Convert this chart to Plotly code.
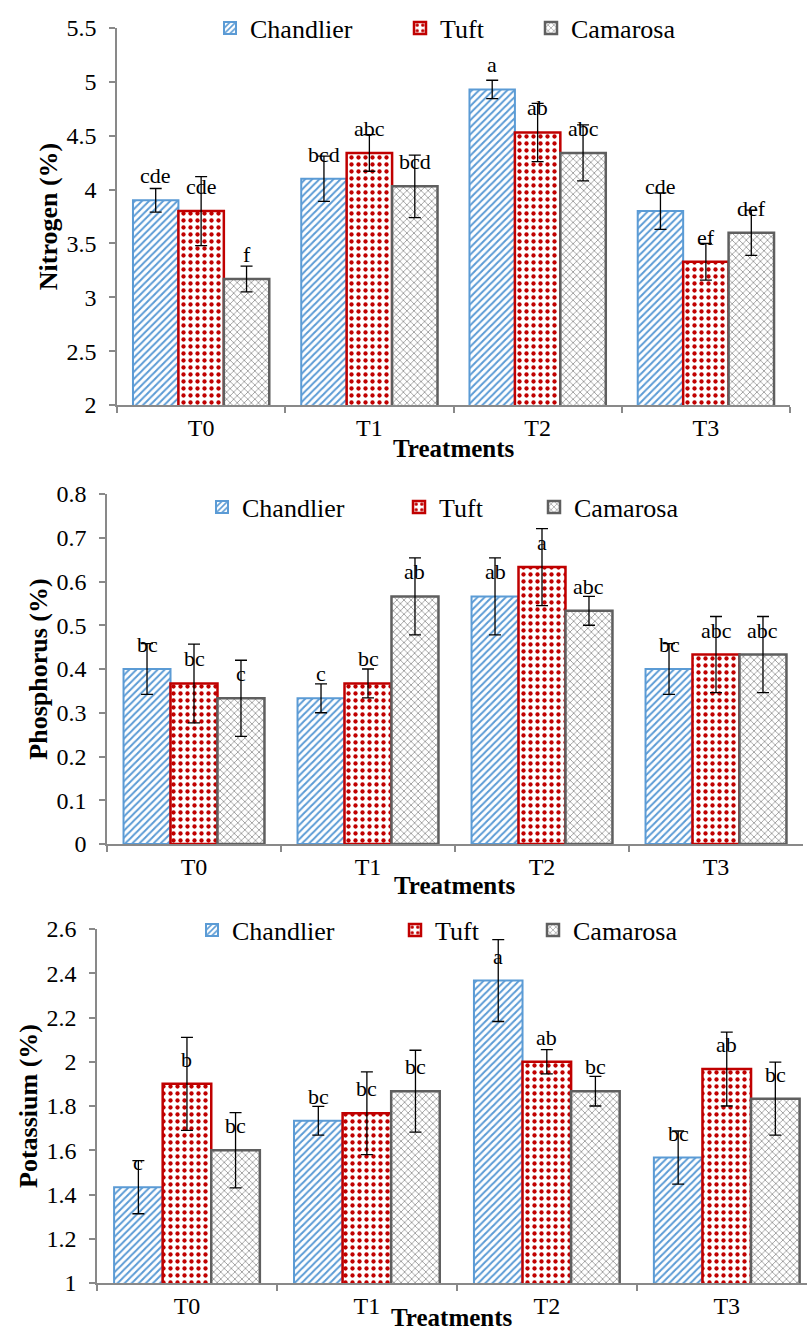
import plotly.graph_objects as go

# ---------------- data ----------------
treatments = ["T0", "T1", "T2", "T3"]
cultivars = ["Chandlier", "Tuft", "Camarosa"]

nitrogen_chandlier = [3.90, 4.10, 4.93, 3.80]
nitrogen_tuft = [3.80, 4.34, 4.53, 3.33]
nitrogen_camarosa = [3.17, 4.03, 4.34, 3.60]
nitrogen_err_chandlier = [0.11, 0.21, 0.085, 0.17]
nitrogen_err_tuft = [0.32, 0.17, 0.27, 0.17]
nitrogen_err_camarosa = [0.12, 0.29, 0.26, 0.21]
nitrogen_letters_chandlier = ["cde", "bcd", "a", "cde"]
nitrogen_letters_tuft = ["cde", "abc", "ab", "ef"]
nitrogen_letters_camarosa = ["f", "bcd", "abc", "def"]

phosphorus_chandlier = [0.400, 0.333, 0.566, 0.400]
phosphorus_tuft = [0.367, 0.367, 0.633, 0.433]
phosphorus_camarosa = [0.333, 0.566, 0.533, 0.433]
phosphorus_err_chandlier = [0.058, 0.033, 0.088, 0.058]
phosphorus_err_tuft = [0.090, 0.033, 0.088, 0.087]
phosphorus_err_camarosa = [0.087, 0.088, 0.033, 0.087]
phosphorus_letters_chandlier = ["bc", "c", "ab", "bc"]
phosphorus_letters_tuft = ["bc", "bc", "a", "abc"]
phosphorus_letters_camarosa = ["c", "ab", "abc", "abc"]

potassium_chandlier = [1.433, 1.733, 2.367, 1.567]
potassium_tuft = [1.900, 1.767, 2.000, 1.967]
potassium_camarosa = [1.600, 1.867, 1.867, 1.833]
potassium_err_chandlier = [0.120, 0.065, 0.185, 0.120]
potassium_err_tuft = [0.210, 0.187, 0.055, 0.167]
potassium_err_camarosa = [0.170, 0.185, 0.067, 0.165]
potassium_letters_chandlier = ["c", "bc", "a", "bc"]
potassium_letters_tuft = ["b", "bc", "ab", "ab"]
potassium_letters_camarosa = ["bc", "bc", "bc", "bc"]

nitrogen_ticks = [2, 2.5, 3, 3.5, 4, 4.5, 5, 5.5]
nitrogen_ticktext = ["2", "2.5", "3", "3.5", "4", "4.5", "5", "5.5"]
phosphorus_ticks = [0, 0.1, 0.2, 0.3, 0.4, 0.5, 0.6, 0.7, 0.8]
phosphorus_ticktext = ["0", "0.1", "0.2", "0.3", "0.4", "0.5", "0.6", "0.7", "0.8"]
potassium_ticks = [1, 1.2, 1.4, 1.6, 1.8, 2, 2.2, 2.4, 2.6]
potassium_ticktext = ["1", "1.2", "1.4", "1.6", "1.8", "2", "2.2", "2.4", "2.6"]

x_title = "Treatments"

# ---------------- styling ----------------
W, H = 807, 1333
FONT = "Liberation Serif"
AXIS_GREY = "#898989"
BARGAP = 0.19
TICK_SIZE = 24

styles = {
    "Chandlier": dict(color="white", line=dict(color="#5B9BD5", width=2),
                      pattern=dict(shape="/", fgcolor="#5B9BD5", bgcolor="white",
                                   size=5, solidity=0.4, fillmode="replace")),
    "Tuft": dict(color="white", line=dict(color="#C00000", width=2.5),
                 pattern=dict(shape=".", fgcolor="#C00000", bgcolor="white",
                              size=7, solidity=0.3, fillmode="replace")),
    "Camarosa": dict(color="white", line=dict(color="#5F5F5F", width=2.5),
                     pattern=dict(shape="x", fgcolor="#8C8C8C", bgcolor="white",
                                  size=5, solidity=0.28, fillmode="replace")),
}

panels = [
    dict(name="Nitrogen (%)",
         series=[nitrogen_chandlier, nitrogen_tuft, nitrogen_camarosa],
         errs=[nitrogen_err_chandlier, nitrogen_err_tuft, nitrogen_err_camarosa],
         letters=[nitrogen_letters_chandlier, nitrogen_letters_tuft, nitrogen_letters_camarosa],
         ticks=nitrogen_ticks, ticktext=nitrogen_ticktext,
         xdom=(117, 790), ytop=28, ybot=405, xrange_end=3.5,
         legend_text_x=[250, 440, 571], legend_y=28, xtitle_shift=-43),
    dict(name="Phosphorus (%)",
         series=[phosphorus_chandlier, phosphorus_tuft, phosphorus_camarosa],
         errs=[phosphorus_err_chandlier, phosphorus_err_tuft, phosphorus_err_camarosa],
         letters=[phosphorus_letters_chandlier, phosphorus_letters_tuft, phosphorus_letters_camarosa],
         ticks=phosphorus_ticks, ticktext=phosphorus_ticktext,
         xdom=(107, 803), ytop=494, ybot=844, xrange_end=3.5,
         legend_text_x=[242, 439, 574], legend_y=507, xtitle_shift=-41),
    dict(name="Potassium (%)",
         series=[potassium_chandlier, potassium_tuft, potassium_camarosa],
         errs=[potassium_err_chandlier, potassium_err_tuft, potassium_err_camarosa],
         letters=[potassium_letters_chandlier, potassium_letters_tuft, potassium_letters_camarosa],
         ticks=potassium_ticks, ticktext=potassium_ticktext,
         xdom=(97, 807), ytop=929, ybot=1283, xrange_end=3.446,
         legend_text_x=[232, 435, 573], legend_y=930, xtitle_shift=-34),
]

fig = go.Figure()
layout = dict(
    width=W, height=H, margin=dict(l=0, r=0, t=0, b=0, autoexpand=False),
    paper_bgcolor="white", plot_bgcolor="white",
    barmode="group", bargap=BARGAP, bargroupgap=0,
    font=dict(family=FONT, color="black", size=22),
    showlegend=True,
)
annotations = []
legend_count = 0

for p_idx, p in enumerate(panels):
    sfx = "" if p_idx == 0 else str(p_idx + 1)
    xa, ya = "x" + sfx, "y" + sfx
    for j, cv in enumerate(cultivars):
        legend_count += 1
        lname = "legend" if legend_count == 1 else "legend%d" % legend_count
        st = styles[cv]
        fig.add_trace(go.Bar(
            x=treatments, y=p["series"][j], name=cv,
            xaxis=xa, yaxis=ya, legend=lname, showlegend=True,
            marker=dict(color=st["color"], line=st["line"], pattern=st["pattern"]),
            error_y=dict(type="data", array=p["errs"][j], visible=True,
                         color="black", thickness=1.3, width=6),
        ))
        layout[lname] = dict(
            x=(p["legend_text_x"][j] - 40) / W, xanchor="left", xref="container",
            y=1 - p["legend_y"] / H, yanchor="middle", yref="container",
            orientation="h", bgcolor="rgba(0,0,0,0)",
            font=dict(family=FONT, size=26, color="black"),
            itemwidth=30, tracegroupgap=0,
        )
        barw = (1 - BARGAP) / 3
        for i, t in enumerate(treatments):
            annotations.append(dict(
                x=i + (j - 1) * barw, y=p["series"][j][i], xref=xa, yref=ya,
                text=p["letters"][j][i], showarrow=False, yanchor="bottom",
                yshift=10, font=dict(family=FONT, size=22, color="black"),
            ))

    # x-axis title ("Treatments") placed under each panel's axis
    annotations.append(dict(
        x=0.5, y=0, xref=xa + " domain", yref=ya + " domain",
        text="<b>%s</b>" % x_title, showarrow=False,
        xanchor="center", yanchor="middle", yshift=p["xtitle_shift"],
        borderpad=0,
        font=dict(family=FONT, size=25, color="black"),
    ))

    x0, x1 = p["xdom"]
    layout["xaxis" + sfx] = dict(
        domain=[x0 / W, x1 / W], anchor=ya, type="category",
        range=[-0.5, p["xrange_end"]], automargin=False,
        showline=True, linecolor=AXIS_GREY, linewidth=1.5,
        ticks="outside", tickson="boundaries", ticklen=6, tickcolor=AXIS_GREY, tickwidth=1.5,
        tickfont=dict(family=FONT, size=TICK_SIZE, color="black"),
        showgrid=False, zeroline=False,
    )
    layout["yaxis" + sfx] = dict(
        domain=[1 - p["ybot"] / H, 1 - p["ytop"] / H], anchor=xa,
        range=[p["ticks"][0], p["ticks"][-1]], automargin=False,
        tickmode="array", tickvals=p["ticks"], ticktext=p["ticktext"],
        showline=True, linecolor=AXIS_GREY, linewidth=1.5,
        ticks="outside", ticklen=6, tickcolor=AXIS_GREY, tickwidth=1.5,
        ticklabelstandoff=8,
        tickfont=dict(family=FONT, size=TICK_SIZE, color="black"),
        showgrid=False, zeroline=False,
        title=dict(text="<b>%s</b>" % p["name"], standoff=1,
                   font=dict(family=FONT, size=26, color="black")),
    )

layout["annotations"] = annotations
fig.update_layout(**layout)
fig.write_html("out.html")
